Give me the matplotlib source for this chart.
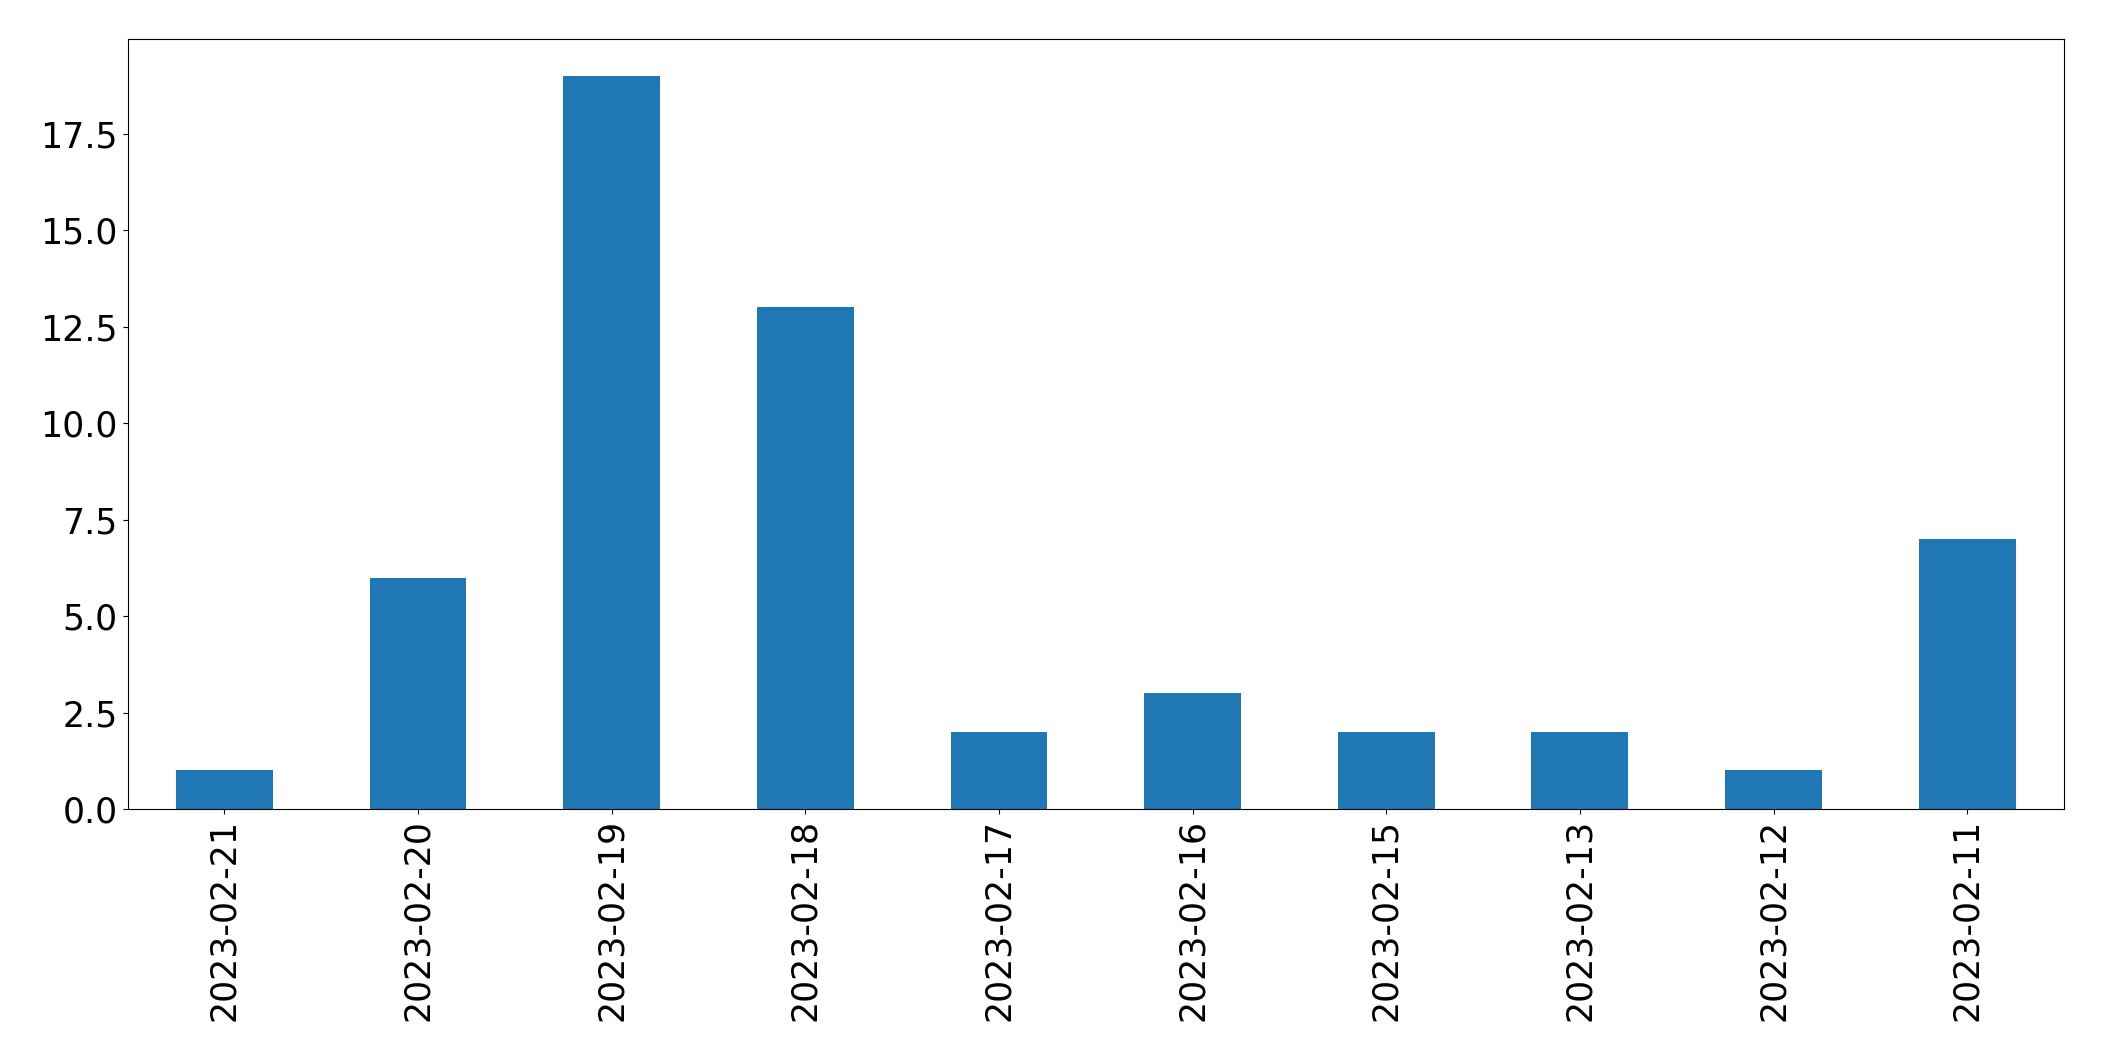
import pandas as pd
import matplotlib.pyplot as plt

# Data
dates = ['2023-02-21', '2023-02-20', '2023-02-19', '2023-02-18', '2023-02-17',
         '2023-02-16', '2023-02-15', '2023-02-13', '2023-02-12', '2023-02-11']
counts = [1, 6, 19, 13, 2, 3, 2, 2, 1, 7]

series = pd.Series(counts, index=dates)

fig = plt.figure(figsize=(21.04, 10.61), dpi=100)
ax = fig.add_axes([0.0606, 0.2375, 0.9204, 0.7255])
series.plot(kind='bar', ax=ax, color='#1f77b4', fontsize=25)

fig.savefig('out.png', dpi=100)
